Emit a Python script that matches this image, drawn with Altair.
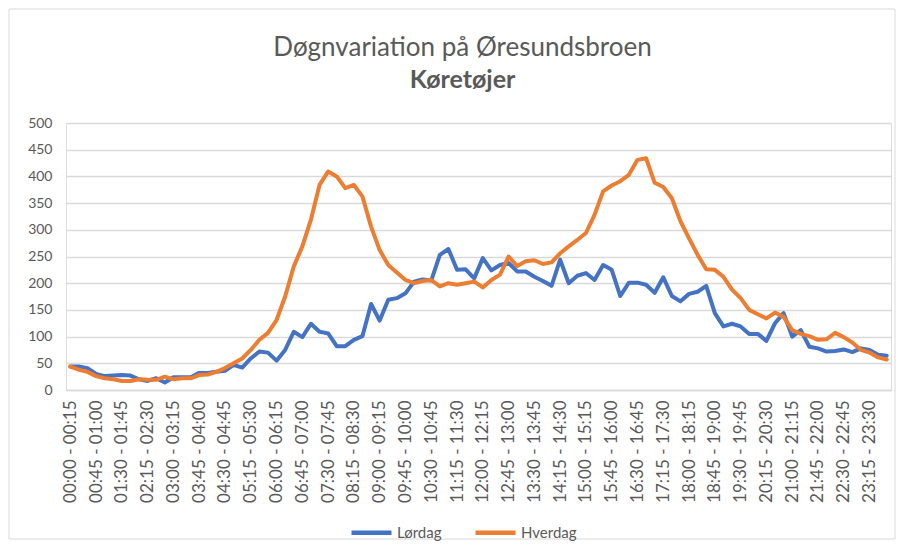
import altair as alt
import pandas as pd

# 15-minute interval categories
intervals = []
for i in range(96):
    s = i * 15
    e = (s + 15) % (24 * 60)
    intervals.append(f"{s // 60:02d}:{s % 60:02d} - {e // 60:02d}:{e % 60:02d}")

tick_labels = intervals[::3]

lordag = [44, 44, 41, 30, 26, 27, 28, 27, 20, 17, 22, 14, 24, 24, 24, 32,
          32, 34, 36, 47, 42, 59, 72, 70, 55, 75, 109, 99, 124, 109, 106, 82,
          82, 94, 101, 161, 130, 169, 172, 181, 203, 207, 205, 253, 264, 225, 226, 209,
          247, 224, 234, 238, 222, 222, 212, 204, 195, 244, 200, 214, 219, 206, 234, 225,
          176, 201, 201, 197, 182, 211, 176, 166, 180, 184, 195, 144, 119, 124, 119, 105,
          105, 92, 125, 144, 100, 112, 81, 78, 72, 73, 76, 71, 78, 75, 66, 64]

hverdag = [44, 38, 34, 26, 22, 20, 17, 17, 20, 19, 19, 25, 20, 22, 22, 28,
           29, 34, 41, 50, 59, 75, 94, 107, 131, 175, 231, 269, 319, 384, 409, 400,
           378, 384, 362, 306, 262, 234, 220, 206, 200, 204, 206, 194, 200, 197, 200, 203,
           192, 206, 216, 250, 232, 241, 243, 236, 239, 256, 269, 281, 294, 328, 372, 383,
           391, 403, 431, 434, 388, 380, 359, 316, 284, 253, 226, 225, 212, 188, 172, 150,
           142, 134, 145, 137, 112, 105, 101, 94, 95, 107, 99, 89, 75, 70, 61, 57]

series_names = ["Lørdag", "Hverdag"]
series_colors = ["#4472C4", "#ED7D31"]

rows = []
for name, vals in zip(series_names, [lordag, hverdag]):
    for t, v in zip(intervals, vals):
        rows.append({"Tid": t, "Antal": v, "Serie": name})
df = pd.DataFrame(rows)

FONT = "Lato"
GREY = "#595959"

lines = alt.Chart(df).mark_line(strokeWidth=4, strokeJoin="round", strokeCap="round").encode(
    x=alt.X("Tid:N", sort=intervals, title=None,
            scale=alt.Scale(paddingInner=0, paddingOuter=0),
            axis=alt.Axis(values=tick_labels, labelAngle=270, labelFontSize=17,
                          labelColor=GREY, labelFont=FONT, labelPadding=10,
                          ticks=False, grid=False, domain=True,
                          domainColor="#D9D9D9", domainWidth=1.5, labelOverlap=False)),
    y=alt.Y("Antal:Q", title=None,
            scale=alt.Scale(domain=[0, 500], nice=False),
            axis=alt.Axis(values=list(range(0, 501, 50)), labelFontSize=14,
                          labelColor=GREY, labelFont=FONT, labelPadding=14,
                          ticks=False, domain=False, grid=True,
                          gridColor="#D9D9D9", gridWidth=1.5)),
    color=alt.Color("Serie:N", title=None,
                    scale=alt.Scale(domain=series_names, range=series_colors),
                    legend=alt.Legend(orient="none", legendX=283, legendY=387,
                                      direction="horizontal", symbolType="stroke",
                                      symbolSize=1600, symbolStrokeWidth=4.5,
                                      labelFontSize=15, labelColor=GREY, labelFont=FONT,
                                      labelOffset=3, columnPadding=24)),
)

border = alt.Chart(pd.DataFrame({"a": [0]})).mark_rect(
    fill=None, stroke="#D9D9D9", strokeWidth=1
).encode(
    x=alt.value(-57), x2=alt.value(829), y=alt.value(-114), y2=alt.value(416)
)

chart = alt.layer(border, lines).properties(
    width=825,
    height=267,
    padding={"left": 58, "top": 115, "right": 5, "bottom": 152},
    autosize=alt.AutoSizeParams(type="none"),
    title=alt.TitleParams(
        text="Døgnvariation på Øresundsbroen",
        subtitle="Køretøjer",
        font=FONT, fontSize=26, fontWeight="normal", color=GREY,
        subtitleFont=FONT, subtitleFontSize=25, subtitleFontWeight="bold",
        subtitleColor=GREY, subtitlePadding=7,
        anchor="middle", offset=22, dx=-16, dy=106,
    ),
).configure_view(stroke=None).configure(background="white")

chart.save("out.html", embed_options={"renderer": "svg", "actions": False})
